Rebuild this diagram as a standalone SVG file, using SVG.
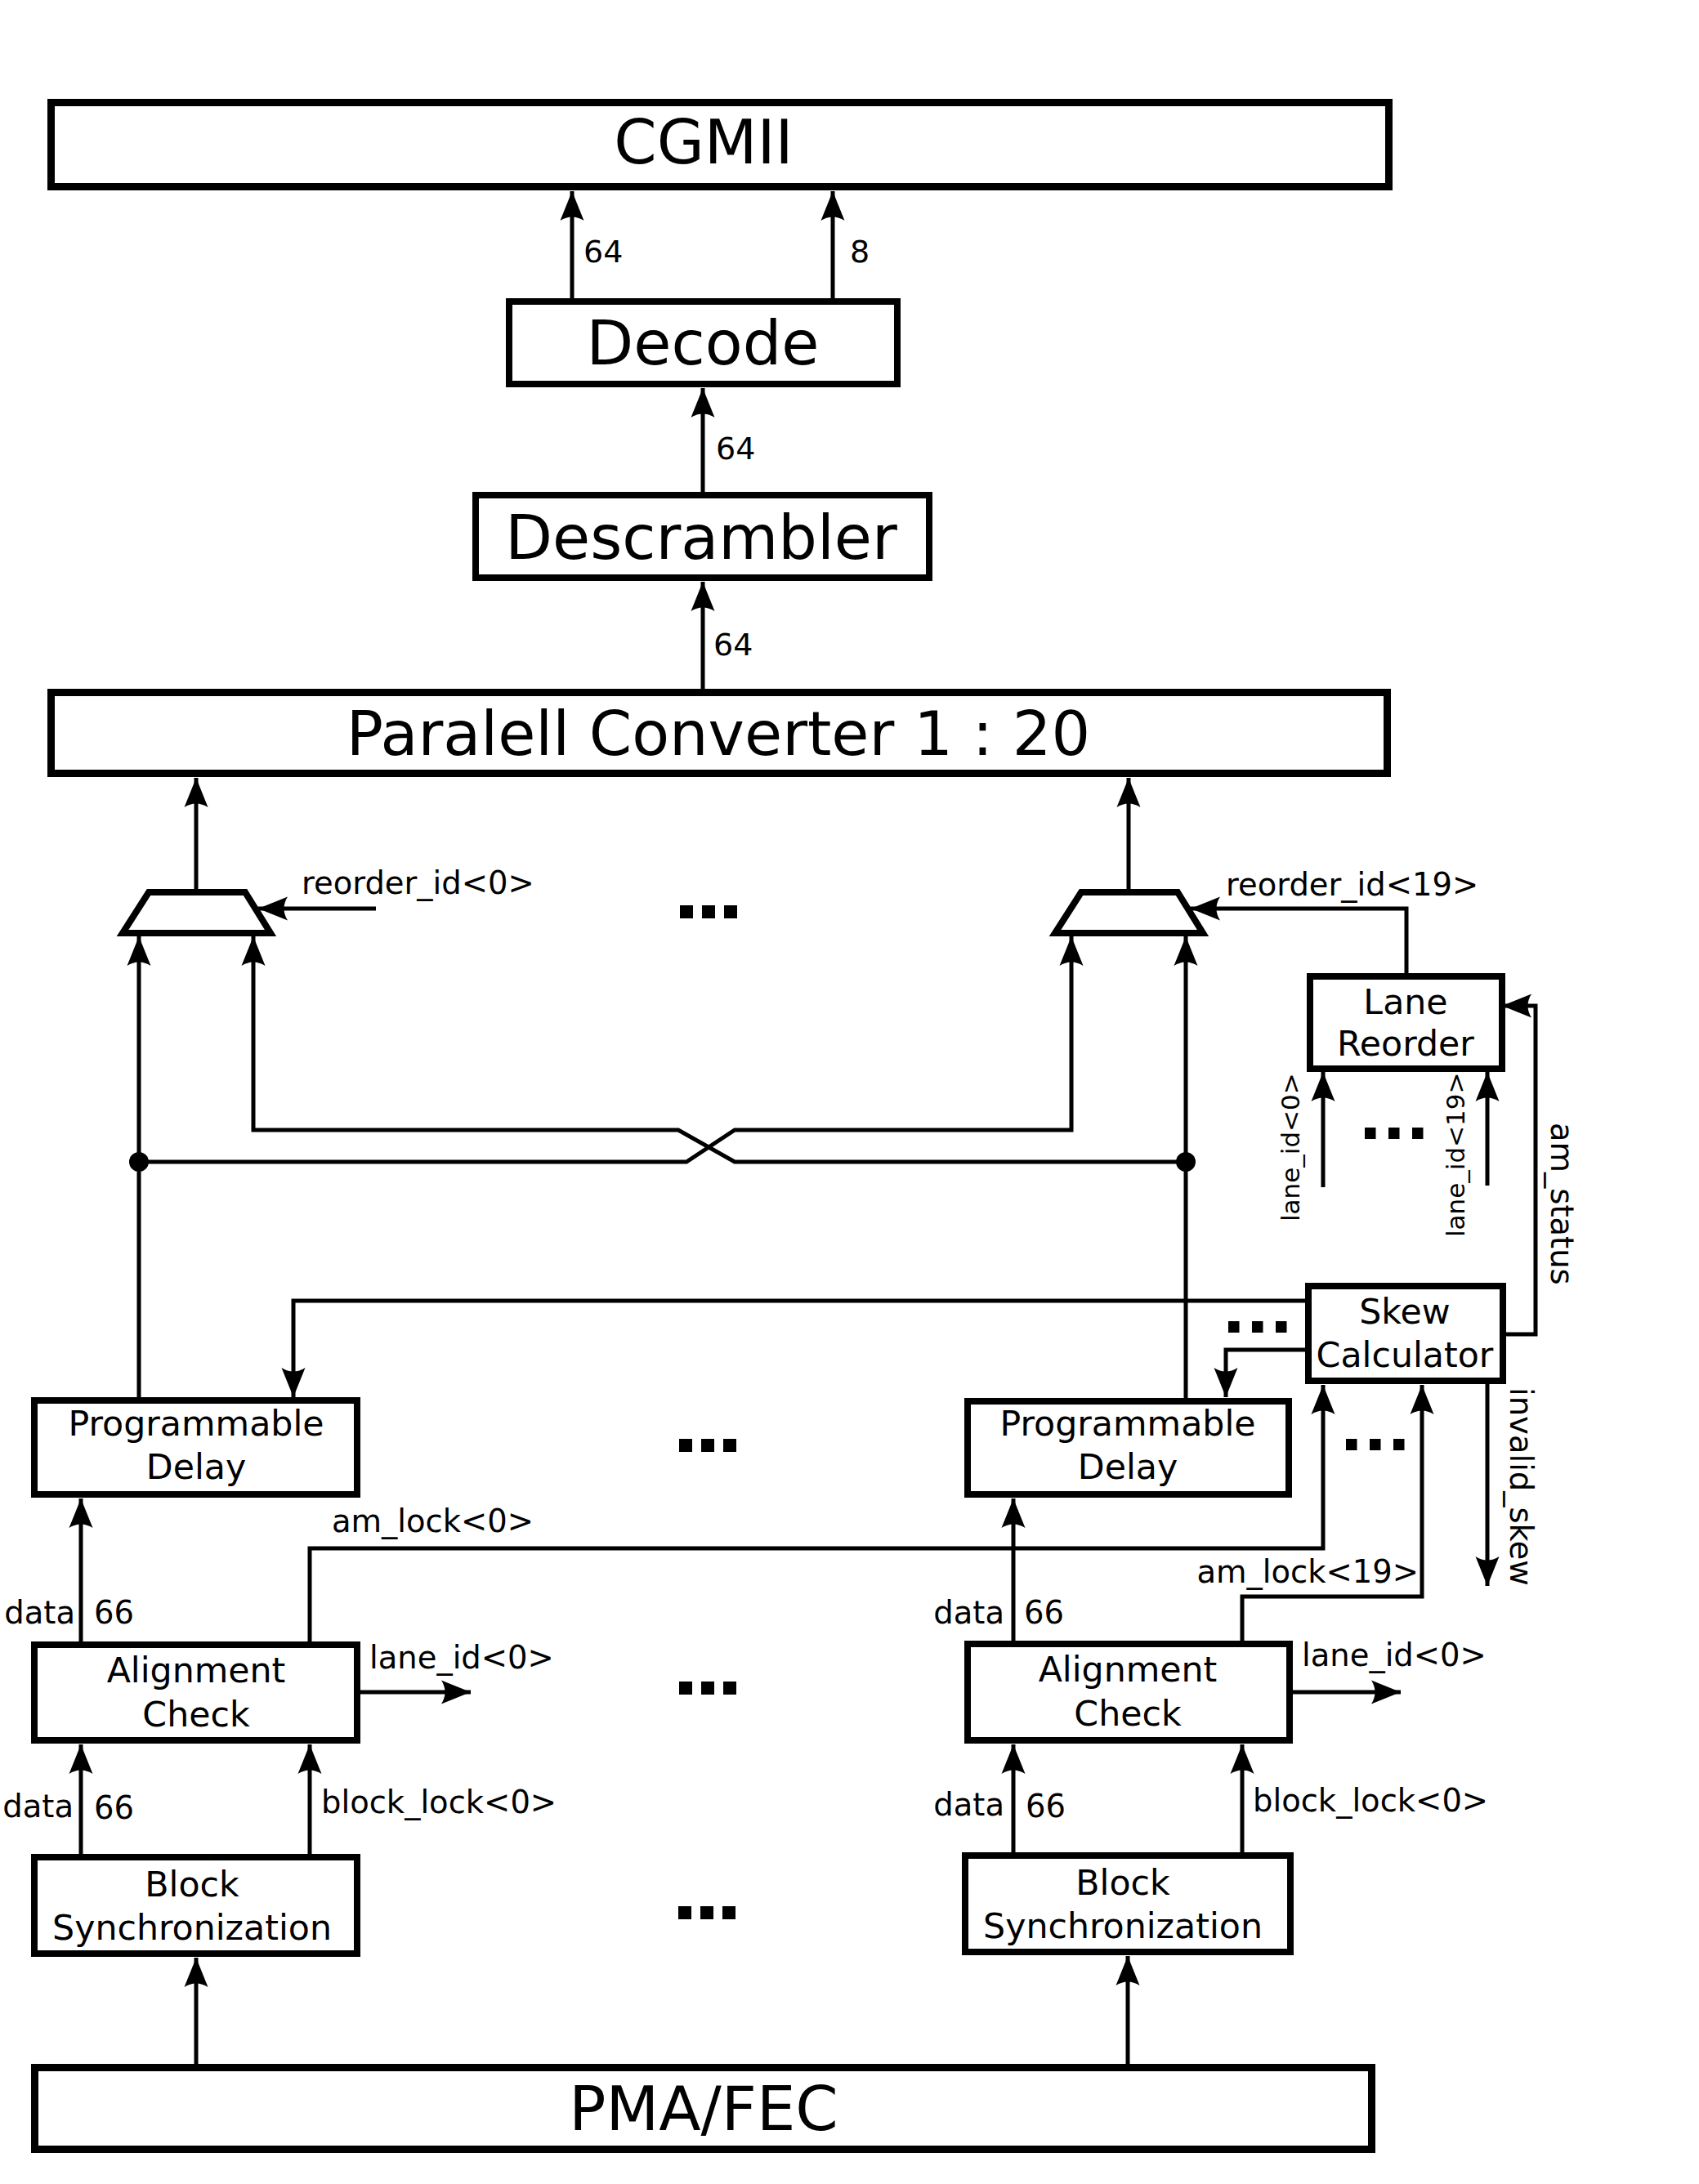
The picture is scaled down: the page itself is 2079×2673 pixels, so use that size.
<svg xmlns="http://www.w3.org/2000/svg" width="2079" height="2673" viewBox="0 0 2079 2673">
<style>
.box{fill:#fff;stroke:#000;stroke-width:8;stroke-linejoin:miter}
.big{stroke-width:9}
.w{fill:none;stroke:#000;stroke-width:5;stroke-linejoin:miter}
.a{marker-end:url(#ah)}
text{font-family:"DejaVu Sans","Liberation Sans",sans-serif;fill:#000}
.t74{font-size:75px;text-anchor:middle}
.t42{font-size:42.7px;text-anchor:middle}
.t37{font-size:38.5px}
.t36{font-size:38px}
.t30{font-size:31px}
.end{text-anchor:end}
</style>
<defs>
<marker id="ah" markerUnits="userSpaceOnUse" viewBox="-40 -16 42 32" refX="0" refY="0" markerWidth="42" markerHeight="32" orient="auto" overflow="visible">
<path d="M0,0 L-36,-14.5 C-30,-5 -30,5 -36,14.5 Z" fill="#000"/>
</marker>
<g id="ellA"><rect x="0" y="0" width="16" height="16"/><rect x="27" y="0" width="16" height="16"/><rect x="54" y="0" width="16" height="16"/></g>
<g id="ellB"><rect x="0" y="0" width="13.5" height="14"/><rect x="29" y="0" width="13.5" height="14"/><rect x="58" y="0" width="13.5" height="14"/></g>
</defs>
<rect width="2079" height="2673" fill="#fff"/>

<g id="connectors">
<path class="w a" d="M700,365 V234"/>
<path class="w a" d="M1019,365 V234"/>
<path class="w a" d="M860,602 V475"/>
<path class="w a" d="M860,843 V712"/>
<path class="w a" d="M240,1088 V952"/>
<path class="w a" d="M1381,1088 V952"/>
<path class="w a" d="M460,1112 H316"/>
<path class="w a" d="M1721,1192 V1112 H1457"/>
<path class="w a" d="M170,1710 V1146"/>
<path class="w a" d="M1451,1422 H899 L830,1383 H310 V1146"/>
<path class="w a" d="M170,1422 H840 L899,1383 H1311 V1146"/>
<path class="w a" d="M1451,1711 V1146"/>
<path class="w a" d="M1619,1453 V1312"/>
<path class="w a" d="M1820,1451 V1312"/>
<path class="w a" d="M1843,1633 H1879 V1231 H1838"/>
<path class="w a" d="M1597,1592 H359 V1710"/>
<path class="w a" d="M1597,1652 H1500 V1710"/>
<path class="w a" d="M99,2009 V1834"/>
<path class="w a" d="M99,2269 V2135"/>
<path class="w a" d="M379,2269 V2135"/>
<path class="w a" d="M379,2009 V1895 H1619 V1695"/>
<path class="w a" d="M1240,2008 V1834"/>
<path class="w a" d="M1240,2267 V2135"/>
<path class="w a" d="M1520,2267 V2135"/>
<path class="w a" d="M1520,2008 V1954 H1740 V1695"/>
<path class="w a" d="M1820,1694 V1941"/>
<path class="w a" d="M441,2071 H576"/>
<path class="w a" d="M1582,2071 H1714"/>
<path class="w a" d="M240,2526 V2396"/>
<path class="w a" d="M1380,2526 V2394"/>
<circle cx="170" cy="1422" r="12" fill="#000"/>
<circle cx="1451" cy="1422" r="12" fill="#000"/>
</g>

<g id="labels">
<text class="t36" x="714" y="321">64</text>
<text class="t36" x="1040" y="321">8</text>
<text class="t36" x="876" y="562">64</text>
<text class="t36" x="873" y="802">64</text>
<text class="t37" x="369" y="1094">reorder_id&lt;0&gt;</text>
<text class="t37" x="1500" y="1096">reorder_id&lt;19&gt;</text>
<text class="t30" transform="translate(1590,1495) rotate(-90)">lane_id&lt;0&gt;</text>
<text class="t30" transform="translate(1792,1514) rotate(-90)">lane_id&lt;19&gt;</text>
<text class="t37" transform="translate(1898,1374) rotate(90)">am_status</text>
<text class="t37" transform="translate(1848,1698) rotate(90)">invalid_skew</text>
<text class="t37" x="406" y="1875">am_lock&lt;0&gt;</text>
<text class="t37 end" x="1736" y="1937">am_lock&lt;19&gt;</text>
<text class="t37 end" x="92" y="1987">data</text>
<text class="t37" x="115" y="1987">66</text>
<text class="t37 end" x="1229" y="1987">data</text>
<text class="t37" x="1253" y="1987">66</text>
<text class="t37" x="452" y="2042">lane_id&lt;0&gt;</text>
<text class="t37" x="1593" y="2039">lane_id&lt;0&gt;</text>
<text class="t37 end" x="90" y="2224">data</text>
<text class="t37" x="115" y="2226">66</text>
<text class="t37" x="393" y="2219">block_lock&lt;0&gt;</text>
<text class="t37 end" x="1229" y="2222">data</text>
<text class="t37" x="1255" y="2224">66</text>
<text class="t37" x="1533" y="2217">block_lock&lt;0&gt;</text>
</g>

<g id="ellipses">
<use href="#ellA" x="832" y="1108"/>
<use href="#ellA" x="831" y="1761"/>
<use href="#ellA" x="831" y="2058"/>
<use href="#ellA" x="830" y="2333"/>
<use href="#ellB" x="1670" y="1380"/>
<use href="#ellB" x="1503" y="1617"/>
<use href="#ellB" x="1647" y="1761"/>
</g>

<g id="cgmii"><rect class="box big" x="62.5" y="125.5" width="1637" height="103"/><text class="t74" x="861" y="200">CGMII</text></g>
<g id="decode"><rect class="box" x="623" y="369" width="475" height="101"/><text class="t74" x="860" y="446">Decode</text></g>
<g id="descrambler"><rect class="box" x="582" y="606" width="555" height="101"/><text class="t74" x="858" y="684">Descrambler</text></g>
<g id="paralell-converter"><rect class="box big" x="62.5" y="847.5" width="1635" height="99"/><text class="t74" x="879" y="924">Paralell Converter 1 : 20</text></g>
<g id="mux0"><polygon class="box" points="182,1092 300,1092 331,1142 150,1142"/></g>
<g id="mux19"><polygon class="box" points="1323,1092 1441,1092 1472,1142 1291,1142"/></g>
<g id="lane-reorder"><rect class="box" x="1603" y="1195" width="235" height="113"/><text class="t42" x="1720" y="1241">Lane</text><text class="t42" x="1720" y="1292">Reorder</text></g>
<g id="skew-calculator"><rect class="box" x="1601" y="1574" width="238" height="116"/><text class="t42" x="1719" y="1620">Skew</text><text class="t42" x="1719" y="1673">Calculator</text></g>
<g id="prog-delay-0"><rect class="box" x="42" y="1714" width="395" height="115"/><text class="t42" x="240" y="1757">Programmable</text><text class="t42" x="240" y="1810">Delay</text></g>
<g id="prog-delay-19"><rect class="box" x="1184" y="1715" width="393" height="114"/><text class="t42" x="1380" y="1757">Programmable</text><text class="t42" x="1380" y="1810">Delay</text></g>
<g id="align-check-0"><rect class="box" x="42" y="2013" width="395" height="117"/><text class="t42" x="240" y="2059">Alignment</text><text class="t42" x="240" y="2113">Check</text></g>
<g id="align-check-19"><rect class="box" x="1184" y="2012" width="394" height="118"/><text class="t42" x="1380" y="2058">Alignment</text><text class="t42" x="1380" y="2112">Check</text></g>
<g id="block-sync-0"><rect class="box" x="42" y="2273" width="395" height="118"/><text class="t42" x="235" y="2321">Block</text><text class="t42" x="235" y="2374">Synchronization</text></g>
<g id="block-sync-19"><rect class="box" x="1181" y="2271" width="398" height="118"/><text class="t42" x="1374" y="2319">Block</text><text class="t42" x="1374" y="2372">Synchronization</text></g>
<g id="pma-fec"><rect class="box big" x="42.5" y="2530.5" width="1636" height="100"/><text class="t74" x="861" y="2607">PMA/FEC</text></g>
</svg>
